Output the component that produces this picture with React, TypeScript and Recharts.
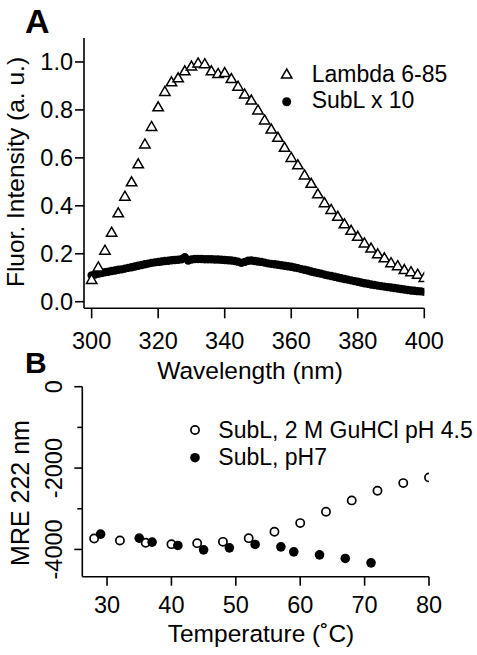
import { ScatterChart, Scatter, XAxis, YAxis, Legend, Label } from "recharts";

const FONT = "'Liberation Sans', Arial, Helvetica, sans-serif";

// Panel A: emission spectra
const lambdaWavelength = [
  300, 302, 304, 306, 308, 310, 312, 314, 316, 318, 320, 322, 324, 326, 328, 330, 332, 334,
  336, 338, 340, 342, 344, 346, 348, 350, 352, 354, 356, 358, 360, 362, 364, 366, 368, 370,
  372, 374, 376, 378, 380, 382, 384, 386, 388, 390, 392, 394, 396, 398, 400,
];
const lambdaIntensity = [
  0.093, 0.145, 0.215, 0.29, 0.371, 0.44, 0.5, 0.575, 0.658, 0.731, 0.813, 0.877, 0.917,
  0.934, 0.963, 0.983, 0.996, 0.993, 0.963, 0.952, 0.956, 0.931, 0.899, 0.866, 0.841, 0.8,
  0.758, 0.72, 0.686, 0.644, 0.602, 0.571, 0.529, 0.494, 0.45, 0.413, 0.385, 0.356, 0.325,
  0.298, 0.273, 0.245, 0.224, 0.2, 0.183, 0.163, 0.15, 0.134, 0.125, 0.115, 0.101,
];
const sublWavelength = [
  300, 301, 302, 303, 304, 305, 306, 307, 308, 309, 310, 311, 312, 313, 314, 315, 316, 317,
  318, 319, 320, 321, 322, 323, 324, 325, 326, 327, 328, 329, 330, 331, 332, 333, 334, 335,
  336, 337, 338, 339, 340, 341, 342, 343, 344, 345, 346, 347, 348, 349, 350, 351, 352, 353,
  354, 355, 356, 357, 358, 359, 360, 361, 362, 363, 364, 365, 366, 367, 368, 369, 370, 371,
  372, 373, 374, 375, 376, 377, 378, 379, 380, 381, 382, 383, 384, 385, 386, 387, 388, 389,
  390, 391, 392, 393, 394, 395, 396, 397, 398, 399, 400,
];
const sublIntensity = [
  0.11, 0.113, 0.117, 0.12, 0.123, 0.125, 0.128, 0.13, 0.133, 0.135, 0.138, 0.141, 0.144,
  0.147, 0.15, 0.153, 0.156, 0.159, 0.162, 0.164, 0.166, 0.168, 0.17, 0.171, 0.173, 0.174,
  0.175, 0.177, 0.186, 0.172, 0.176, 0.178, 0.178, 0.178, 0.177, 0.177, 0.177, 0.176, 0.176,
  0.175, 0.174, 0.173, 0.172, 0.17, 0.167, 0.162, 0.166, 0.171, 0.172, 0.17, 0.168, 0.166,
  0.163, 0.16, 0.158, 0.156, 0.154, 0.152, 0.15, 0.148, 0.146, 0.143, 0.14, 0.136, 0.133,
  0.13, 0.126, 0.123, 0.12, 0.117, 0.113, 0.11, 0.107, 0.104, 0.101, 0.098, 0.095, 0.092,
  0.089, 0.086, 0.083, 0.08, 0.077, 0.075, 0.072, 0.07, 0.067, 0.065, 0.063, 0.061, 0.059,
  0.057, 0.055, 0.053, 0.051, 0.049, 0.047, 0.046, 0.044, 0.043, 0.041,
];
const wavelengthTicks = [300, 320, 340, 360, 380, 400];
const intensityTicks = [0, 0.2, 0.4, 0.6, 0.8, 1.0];

// Panel B: thermal melts
const guhclTemp = [28, 32, 36, 40, 44, 48, 52, 56, 60, 64, 68, 72, 76, 80];
const guhclMre = [
  -3730, -3779, -3837, -3870, -3845, -3813, -3722, -3567, -3353, -3075, -2795, -2558, -2369,
  -2229,
];
const ph7Temp = [29, 35, 37, 41, 45, 49, 53, 57, 59, 63, 67, 71];
const ph7Mre = [-3624, -3722, -3820, -3902, -4010, -3961, -3877, -3936, -4059, -4133, -4222, -4330];
const temperatureTicks = [30, 40, 50, 60, 70, 80];
const mreTicks = [0, -1000, -2000, -3000, -4000];

const lambdaData = lambdaWavelength.map((x, i) => ({ x, y: lambdaIntensity[i] }));
const sublData = sublWavelength.map((x, i) => ({ x, y: sublIntensity[i] }));
const guhclData = guhclTemp.map((x, i) => ({ x, y: guhclMre[i] }));
const ph7Data = ph7Temp.map((x, i) => ({ x, y: ph7Mre[i] }));

const axisStroke = { stroke: "#000", strokeWidth: 1.6 };
const tickFont = { fill: "#000", fontSize: 23.5, fontFamily: FONT };

function trianglePath(cx: number, cy: number) {
  return `M${cx},${cy - 5} L${cx + 5.2},${cy + 4} L${cx - 5.2},${cy + 4} Z`;
}

function Triangle(props: any) {
  return <path d={trianglePath(props.cx, props.cy)} fill="#fff" stroke="#000" strokeWidth={1.5} />;
}

function Dot(r: number) {
  return (props: any) => <circle cx={props.cx} cy={props.cy} r={r} fill="#000" />;
}

function Ring(props: any) {
  return <circle cx={props.cx} cy={props.cy} r={4.1} fill="#fff" stroke="#000" strokeWidth={1.7} />;
}

function MreTick(props: any) {
  const { x, y, payload } = props;
  const axisX = x + 8;
  const major = payload.value % 2000 === 0;
  return (
    <g>
      <line x1={axisX - (major ? 8 : 5)} x2={axisX} y1={y} y2={y} stroke="#000" strokeWidth={1.6} />
      {major && (
        <text
          x={62}
          y={y}
          transform={`rotate(-90, 62, ${y})`}
          textAnchor="middle"
          fontSize={23.5}
          fontFamily={FONT}
          fill="#000"
        >
          {payload.value}
        </text>
      )}
    </g>
  );
}

function LegendA() {
  return (
    <svg width={200} height={56} style={{ display: "block" }}>
      <path d={trianglePath(10.7, 14)} fill="#fff" stroke="#000" strokeWidth={1.5} />
      <text x={35.7} y={21.7} fontSize={23} fontFamily={FONT} fill="#000">
        Lambda 6-85
      </text>
      <circle cx={10.7} cy={41.7} r={4.5} fill="#000" />
      <text x={35.7} y={48.3} fontSize={23} fontFamily={FONT} fill="#000">
        SubL x 10
      </text>
    </svg>
  );
}

function LegendB() {
  return (
    <svg width={294} height={56} style={{ display: "block" }}>
      <circle cx={12} cy={15} r={4.1} fill="#fff" stroke="#000" strokeWidth={1.7} />
      <text x={35.3} y={23.3} fontSize={23} fontFamily={FONT} fill="#000">
        SubL, 2 M GuHCl pH 4.5
      </text>
      <circle cx={12} cy={42.7} r={4.8} fill="#000" />
      <text x={35.3} y={50} fontSize={23} fontFamily={FONT} fill="#000">
        SubL, pH7
      </text>
    </svg>
  );
}

export default function App() {
  return (
    <div
      style={{
        position: "absolute",
        left: 0,
        top: 0,
        width: 477,
        height: 655,
        background: "#fff",
        fontFamily: FONT,
      }}
    >
      <div style={{ position: "absolute", left: 0, top: 0 }}>
        <ScatterChart width={477} height={390} margin={{ top: 38, right: 52.7, bottom: 0, left: 0 }}>
          <XAxis
            type="number"
            dataKey="x"
            domain={[297.7, 400]}
            ticks={wavelengthTicks}
            allowDataOverflow
            height={81.7}
            axisLine={axisStroke}
            tickLine={axisStroke}
            tickSize={10}
            tickMargin={14.2}
            tick={tickFont}
          >
            <Label
              value="Wavelength (nm)"
              content={() => (
                <text x={250} y={379} textAnchor="middle" fontSize={24.5} fontFamily={FONT} fill="#000">
                  Wavelength (nm)
                </text>
              )}
            />
          </XAxis>
          <YAxis
            type="number"
            dataKey="y"
            domain={[-0.0275, 1.1]}
            ticks={intensityTicks}
            allowDataOverflow
            width={84}
            axisLine={axisStroke}
            tickLine={axisStroke}
            tickSize={9}
            tickMargin={2}
            tick={tickFont}
            tickFormatter={(v: number) => v.toFixed(1)}
          >
            <Label
              value="Fluor. Intensity (a. u.)"
              content={() => (
                <text
                  x={24}
                  y={172}
                  transform="rotate(-90, 24, 172)"
                  textAnchor="middle"
                  fontSize={24.5}
                  fontFamily={FONT}
                  fill="#000"
                >
                  Fluor. Intensity (a. u.)
                </text>
              )}
            />
          </YAxis>
          <Legend
            layout="vertical"
            align="center"
            verticalAlign="middle"
            wrapperStyle={{ left: 276, top: 60, width: 200 }}
            content={() => <LegendA />}
          />
          <Scatter name="SubL x 10" data={sublData} shape={Dot(4.2)} isAnimationActive={false} />
          <Scatter name="Lambda 6-85" data={lambdaData} shape={Triangle} isAnimationActive={false} />
        </ScatterChart>
      </div>
      <svg
        width={60}
        height={40}
        style={{ position: "absolute", left: 0, top: 0, overflow: "visible" }}
      >
        <text x={25} y={33} fontSize={34} fontWeight="bold" fontFamily={FONT} fill="#000">
          A
        </text>
        <text x={25} y={373} fontSize={30} fontWeight="bold" fontFamily={FONT} fill="#000">
          B
        </text>
      </svg>
      <div style={{ position: "absolute", left: 0, top: 340 }}>
        <ScatterChart width={477} height={315} margin={{ top: 46.7, right: 48, bottom: 0, left: 0 }}>
          <XAxis
            type="number"
            dataKey="x"
            domain={[26.16, 80]}
            ticks={temperatureTicks}
            allowDataOverflow
            height={78.3}
            axisLine={axisStroke}
            tickLine={axisStroke}
            tickSize={9}
            tickMargin={10.5}
            tick={tickFont}
          >
            <Label
              value="Temperature (˚C)"
              content={() => (
                <text x={261} y={301.7} textAnchor="middle" fontSize={24.5} fontFamily={FONT} fill="#000">
                  Temperature (˚C)
                </text>
              )}
            />
          </XAxis>
          <YAxis
            type="number"
            dataKey="y"
            domain={[-4670, 0]}
            ticks={mreTicks}
            allowDataOverflow
            width={82.3}
            axisLine={axisStroke}
            tickLine={false}
            tickSize={8}
            tickMargin={0}
            tick={<MreTick />}
          >
            <Label
              value="MRE 222 nm"
              content={() => (
                <text
                  x={28.5}
                  y={153}
                  transform="rotate(-90, 28.5, 153)"
                  textAnchor="middle"
                  fontSize={25}
                  fontFamily={FONT}
                  fill="#000"
                >
                  MRE 222 nm
                </text>
              )}
            />
          </YAxis>
          <Legend
            layout="vertical"
            align="center"
            verticalAlign="middle"
            wrapperStyle={{ left: 183, top: 75, width: 294 }}
            content={() => <LegendB />}
          />
          <Scatter name="SubL, 2 M GuHCl pH 4.5" data={guhclData} shape={Ring} isAnimationActive={false} />
          <Scatter name="SubL, pH7" data={ph7Data} shape={Dot(4.8)} isAnimationActive={false} />
        </ScatterChart>
      </div>
    </div>
  );
}
